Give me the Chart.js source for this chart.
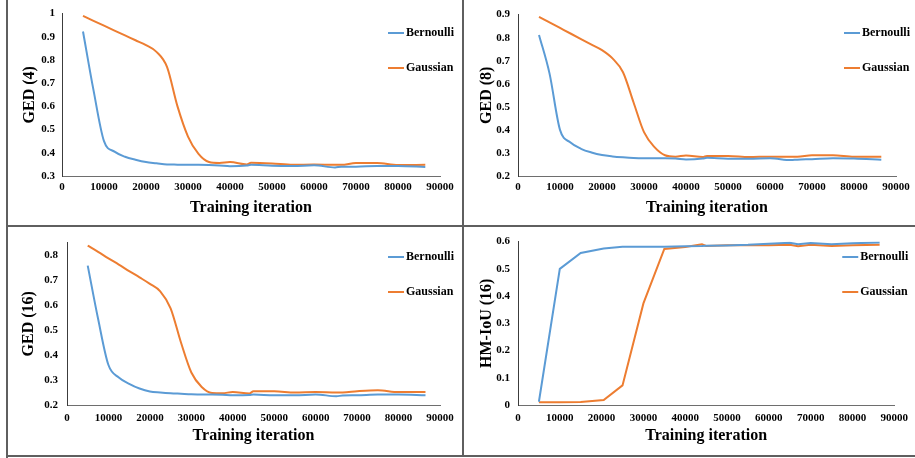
<!DOCTYPE html>
<html>
<head>
<meta charset="utf-8">
<script src="https://cdn.jsdelivr.net/npm/chart.js@4"></script>
<style>
    body { margin: 0; background: #fff; }
    #wrap { position: relative; width: 915px; height: 458px; overflow: hidden; }
    .panel { position: absolute; }
    .rule { position: absolute; background: #5f5f5f; }
</style>
</head>
<body>
<div id="wrap">
    <div class="rule" style="left:6px;top:0;width:2px;height:458px"></div>
    <div class="rule" style="left:462px;top:0;width:2px;height:457px"></div>
    <div class="rule" style="left:6px;top:225px;width:909px;height:2px"></div>
    <div class="rule" style="left:6px;top:455px;width:909px;height:2px"></div>

    <canvas class="panel" id="ged4" width="454" height="225" style="left:8px;top:0"></canvas>
    <canvas class="panel" id="ged8" width="451" height="225" style="left:464px;top:0"></canvas>
    <canvas class="panel" id="ged16" width="454" height="228" style="left:8px;top:227px"></canvas>
    <canvas class="panel" id="iou16" width="451" height="228" style="left:464px;top:227px"></canvas>
</div>
<script>
const seriesNames = ['Bernoulli', 'Gaussian'];

const gedIters = [5000, 7500, 10000, 12500, 15000, 17500, 20000, 22500, 25000, 27500, 30000, 32500, 35000,
    37500, 40000, 44000, 45000, 50000, 55000, 60000, 65000, 66500, 70000, 75000, 80000, 86500];

const ged4Bernoulli = [0.923, 0.67, 0.45, 0.405, 0.383, 0.37, 0.36, 0.355, 0.35, 0.349, 0.348, 0.348, 0.347,
    0.345, 0.342, 0.345, 0.348, 0.344, 0.343, 0.346, 0.337, 0.34, 0.34, 0.343, 0.343, 0.339];
const ged4Gaussian = [0.99, 0.969, 0.948, 0.927, 0.906, 0.885, 0.864, 0.835, 0.77, 0.6, 0.47, 0.395, 0.36,
    0.356, 0.36, 0.35, 0.357, 0.354, 0.348, 0.35, 0.348, 0.348, 0.356, 0.356, 0.347, 0.348];

const ged8Bernoulli = [0.812, 0.645, 0.4, 0.345, 0.318, 0.302, 0.291, 0.285, 0.281, 0.278, 0.277, 0.277, 0.277,
    0.276, 0.272, 0.276, 0.279, 0.275, 0.275, 0.277, 0.269, 0.271, 0.273, 0.277, 0.276, 0.27];
const ged8Gaussian = [0.89, 0.866, 0.842, 0.818, 0.794, 0.77, 0.746, 0.71, 0.65, 0.52, 0.39, 0.325, 0.29,
    0.284, 0.289, 0.282, 0.287, 0.287, 0.282, 0.284, 0.283, 0.283, 0.29, 0.29, 0.283, 0.283];

const ged16Bernoulli = [0.758, 0.545, 0.36, 0.31, 0.285, 0.266, 0.254, 0.25, 0.247, 0.245, 0.243, 0.242, 0.242,
    0.241, 0.239, 0.24, 0.242, 0.239, 0.239, 0.242, 0.235, 0.238, 0.239, 0.242, 0.242, 0.239];
const ged16Gaussian = [0.838, 0.813, 0.787, 0.762, 0.736, 0.711, 0.685, 0.655, 0.587, 0.45, 0.33, 0.272, 0.248,
    0.247, 0.252, 0.246, 0.255, 0.255, 0.25, 0.252, 0.25, 0.25, 0.255, 0.259, 0.252, 0.252];

const iouIters = [5000, 10000, 15000, 20500, 25000, 30000, 35000, 40000, 44000, 45000, 50000, 55000, 60000,
    65000, 67000, 70000, 75000, 80000, 86500];
const iouBernoulli = [0.012, 0.5, 0.558, 0.575, 0.581, 0.581, 0.581, 0.583, 0.584, 0.585, 0.586, 0.588, 0.592,
    0.596, 0.59, 0.595, 0.59, 0.594, 0.597];
const iouGaussian = [0.01, 0.01, 0.011, 0.018, 0.072, 0.373, 0.573, 0.58, 0.59, 0.584, 0.587, 0.587, 0.587,
    0.588, 0.583, 0.588, 0.584, 0.587, 0.588];

const BLUE = '#5B9BD5';
const ORANGE = '#ED7D31';
const FONT = 'Liberation Serif';

Chart.defaults.color = '#000';
Chart.defaults.font.family = FONT;

// legend drawn inside the plot, Excel style: short line + bold label
const sideLegend = {
    id: 'sideLegend',
    afterDraw(chart, args, opts) {
        const ctx = chart.ctx;
        const x = chart.chartArea.right - 52;
        ctx.save();
        ctx.font = `bold 12px "${FONT}"`;
        ctx.textBaseline = 'middle';
        chart.data.datasets.forEach((ds, i) => {
            const y = opts.y[i];
            ctx.strokeStyle = ds.borderColor;
            ctx.lineWidth = 2;
            ctx.beginPath();
            ctx.moveTo(x, y);
            ctx.lineTo(x + 16, y);
            ctx.stroke();
            ctx.fillStyle = '#000';
            ctx.fillText(ds.label, x + 18, y);
        });
        ctx.restore();
    },
};

function toPoints(xs, ys) {
    return xs.map((x, i) => ({ x, y: ys[i] }));
}

function makeChart(id, p) {
    const ctx = document.getElementById(id).getContext('2d');
    const smooth = p.smooth !== false;

    return new Chart(ctx, {
        type: 'line',
        data: {
            datasets: [
                { label: seriesNames[0], data: toPoints(p.xs, p.bernoulli), borderColor: BLUE },
                { label: seriesNames[1], data: toPoints(p.xs, p.gaussian), borderColor: ORANGE },
            ].map((ds) => ({
                ...ds,
                borderWidth: 2,
                pointRadius: 0,
                fill: false,
                cubicInterpolationMode: smooth ? 'monotone' : 'default',
                tension: 0,
            })),
        },
        options: {
            responsive: false,
            animation: false,
            layout: { padding: { left: 0, top: p.top, right: p.right, bottom: 0 } },
            plugins: {
                legend: { display: false },
                tooltip: { enabled: false },
                sideLegend: { y: p.legendY },
            },
            scales: {
                x: {
                    type: 'linear',
                    min: 0,
                    max: 90000,
                    grid: { display: false, drawTicks: false },
                    border: { display: true, color: '#6e6e6e', width: 1 },
                    ticks: {
                        stepSize: 10000,
                        maxRotation: 0,
                        padding: p.xTickPad,
                        font: { size: 11, weight: 'bold' },
                        callback: (v) => String(v),
                    },
                    title: {
                        display: true,
                        text: 'Training iteration',
                        font: { size: 16, weight: 'bold' },
                        padding: { top: 0, bottom: p.xTitlePad },
                    },
                    afterFit: (s) => { s.height = p.xHeight; },
                },
                y: {
                    min: p.yMin,
                    max: p.yMax,
                    grid: { display: false, drawTicks: false },
                    border: { display: true, color: '#3c3c3c', width: 1 },
                    ticks: {
                        stepSize: 0.1,
                        includeBounds: false,
                        padding: p.yTickPad,
                        font: { size: 11, weight: 'bold' },
                        callback: (v) => String(Math.round(v * 100) / 100),
                    },
                    title: {
                        display: true,
                        text: p.yTitle,
                        font: { size: 16, weight: 'bold' },
                        padding: { top: p.yTitlePad, bottom: 0 },
                    },
                    afterFit: (s) => { s.width = p.yWidth; },
                },
            },
        },
        plugins: [sideLegend],
    });
}

makeChart('ged4', {
    xs: gedIters, bernoulli: ged4Bernoulli, gaussian: ged4Gaussian,
    yTitle: 'GED (4)', yMin: 0.3, yMax: 1,
    top: 10, right: 22, yWidth: 54, xHeight: 49,
    xTickPad: 5, xTitlePad: 8, yTickPad: 7, yTitlePad: 12,
    legendY: [33, 68],
});

makeChart('ged8', {
    xs: gedIters, bernoulli: ged8Bernoulli, gaussian: ged8Gaussian,
    yTitle: 'GED (8)', yMin: 0.2, yMax: 0.9,
    top: 10, right: 19, yWidth: 54, xHeight: 49,
    xTickPad: 5, xTitlePad: 8, yTickPad: 8, yTitlePad: 13,
    legendY: [33, 68],
});

makeChart('ged16', {
    xs: gedIters, bernoulli: ged16Bernoulli, gaussian: ged16Gaussian,
    yTitle: 'GED (16)', yMin: 0.2, yMax: 0.85,
    top: 11, right: 22, yWidth: 59, xHeight: 50,
    xTickPad: 7, xTitlePad: 10, yTickPad: 9, yTitlePad: 11,
    legendY: [30, 65],
});

makeChart('iou16', {
    xs: iouIters, bernoulli: iouBernoulli, gaussian: iouGaussian, smooth: false,
    yTitle: 'HM-IoU (16)', yMin: 0, yMax: 0.6,
    top: 12, right: 19, yWidth: 54, xHeight: 50,
    xTickPad: 7, xTitlePad: 10, yTickPad: 8, yTitlePad: 13,
    legendY: [30, 65],
});
</script>
</body>
</html>
